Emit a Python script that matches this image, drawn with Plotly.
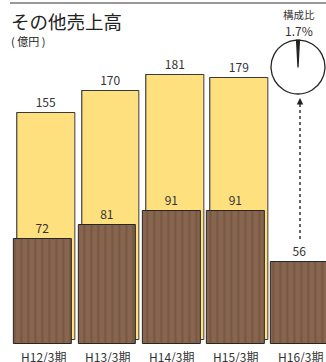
import plotly.graph_objects as go

# --- data ---
periods = ["H12/3期", "H13/3期", "H14/3期", "H15/3期", "H16/3期"]
total_sales = [155, 170, 181, 179]          # 売上高 (yellow, back)
other_sales = [72, 81, 91, 91, 56]          # その他売上高 (wood, front)
share_pct = 1.7                             # 構成比 (%)

W, H = 326, 362
FONT = "Noto Sans CJK JP"
TXT = "#333333"

def px_x(p):
    return p / W

def px_y(p):
    return (H - p) / H

idx = list(range(len(periods)))
idx_back = idx[:len(total_sales)]

BAR_W = 0.9
Y_RANGE = [0, 200]
STEP = 64.3          # px per category
C0 = 43.0            # px centre of first category

def xdom(shift):
    left = C0 + shift - STEP / 2
    return [px_x(left), 1.0], [-0.5, (W - (C0 + shift)) / STEP]

def ydom(bottom_px, top_px):
    return [px_y(bottom_px), px_y(top_px)]

fig = go.Figure()

# drop shadow of the back bars
fig.add_trace(go.Bar(
    x=idx_back, y=total_sales, width=BAR_W,
    marker=dict(color="#8a8a8a", line=dict(width=0)),
    xaxis="x", yaxis="y", hoverinfo="skip", showlegend=False,
))

# back bars: total
fig.add_trace(go.Bar(
    x=idx_back, y=total_sales, width=BAR_W,
    marker=dict(color="#FFE07E", line=dict(color="#3a3a3a", width=1)),
    text=[str(v) for v in total_sales], textposition="outside",
    textfont=dict(family=FONT, size=12, color=TXT),
    cliponaxis=False, xaxis="x2", yaxis="y2", showlegend=False,
))

# front bars: other sales, wood-grain pattern
fig.add_trace(go.Bar(
    x=idx, y=other_sales, width=BAR_W,
    marker=dict(
        color="#87654e",
        line=dict(color="#262626", width=1),
        pattern=dict(shape="|", fillmode="overlay", fgcolor="#5f432f",
                     fgopacity=0.4, size=7, solidity=0.3),
    ),
    text=[str(v) for v in other_sales], textposition="outside",
    textfont=dict(family=FONT, size=12, color=TXT),
    cliponaxis=False, xaxis="x3", yaxis="y3", showlegend=False,
))

# share pie
fig.add_trace(go.Pie(
    values=[share_pct, 100 - share_pct],
    marker=dict(colors=["#222222", "#ffffff"], line=dict(color="#222222", width=1.3)),
    sort=False, direction="clockwise", rotation=-share_pct * 3.6 / 2,
    textinfo="none", hoverinfo="skip", showlegend=False,
    domain=dict(x=[px_x(271), px_x(325)], y=[px_y(94), px_y(40)]),
))

d1x, r1x = xdom(2.0)
d2x, r2x = xdom(3.5)
d3x, r3x = xdom(0.0)

axis_common = dict(visible=False, fixedrange=True)
fig.update_layout(
    width=W, height=H,
    margin=dict(l=0, r=0, t=0, b=0),
    paper_bgcolor="white", plot_bgcolor="rgba(0,0,0,0)",
    bargap=0,
    xaxis=dict(domain=d1x, range=r1x, **axis_common),
    yaxis=dict(domain=ydom(338.5, 338.5 - 293), range=Y_RANGE, **axis_common),
    xaxis2=dict(domain=d2x, range=r2x, anchor="y2", **axis_common),
    yaxis2=dict(domain=ydom(340, 340 - 293), range=Y_RANGE, anchor="x2", **axis_common),
    xaxis3=dict(domain=d3x, range=r3x, anchor="y3", **axis_common),
    yaxis3=dict(domain=ydom(344, 344 - 293), range=Y_RANGE, anchor="x3", **axis_common),
)

annotations = [
    dict(text="その他売上高", x=px_x(9), y=px_y(21), xref="paper", yref="paper",
         xanchor="left", yanchor="middle", showarrow=False,
         font=dict(family=FONT, size=18.5, color="#222222")),
    dict(text="( 億円 )", x=px_x(9), y=px_y(41), xref="paper", yref="paper",
         xanchor="left", yanchor="middle", showarrow=False,
         font=dict(family=FONT, size=11, color="#222222")),
    dict(text="構成比", x=px_x(299), y=px_y(15), xref="paper", yref="paper",
         xanchor="center", yanchor="middle", showarrow=False,
         font=dict(family=FONT, size=10.5, color=TXT)),
    dict(text=f"{share_pct}%", x=px_x(299), y=px_y(31), xref="paper", yref="paper",
         xanchor="center", yanchor="middle", showarrow=False,
         font=dict(family=FONT, size=12, color=TXT)),
    # arrowhead pointing at the pie
    dict(text="", x=px_x(300), y=px_y(98), xref="paper", yref="paper",
         showarrow=True, arrowhead=2, arrowsize=1, arrowwidth=1.3,
         arrowcolor="#222222", ax=0, ay=7),
]
for i, lab in zip(idx, periods):
    annotations.append(dict(
        text=lab, x=i, y=px_y(356), xref="x3", yref="paper",
        xanchor="center", yanchor="middle", showarrow=False,
        font=dict(family=FONT, size=12, color=TXT)))
fig.update_layout(annotations=annotations)

fig.update_layout(shapes=[
    # rule under the page header
    dict(type="line", xref="paper", yref="paper",
         x0=px_x(10), x1=1.0, y0=px_y(3), y1=px_y(3),
         line=dict(color="#777777", width=1.5)),
    # dotted leader from the last bar to the pie
    dict(type="line", xref="paper", yref="paper",
         x0=px_x(300), x1=px_x(300), y0=px_y(104), y1=px_y(242),
         line=dict(color="#333333", width=1.5, dash="dot")),
])

fig.write_html("out.html")
